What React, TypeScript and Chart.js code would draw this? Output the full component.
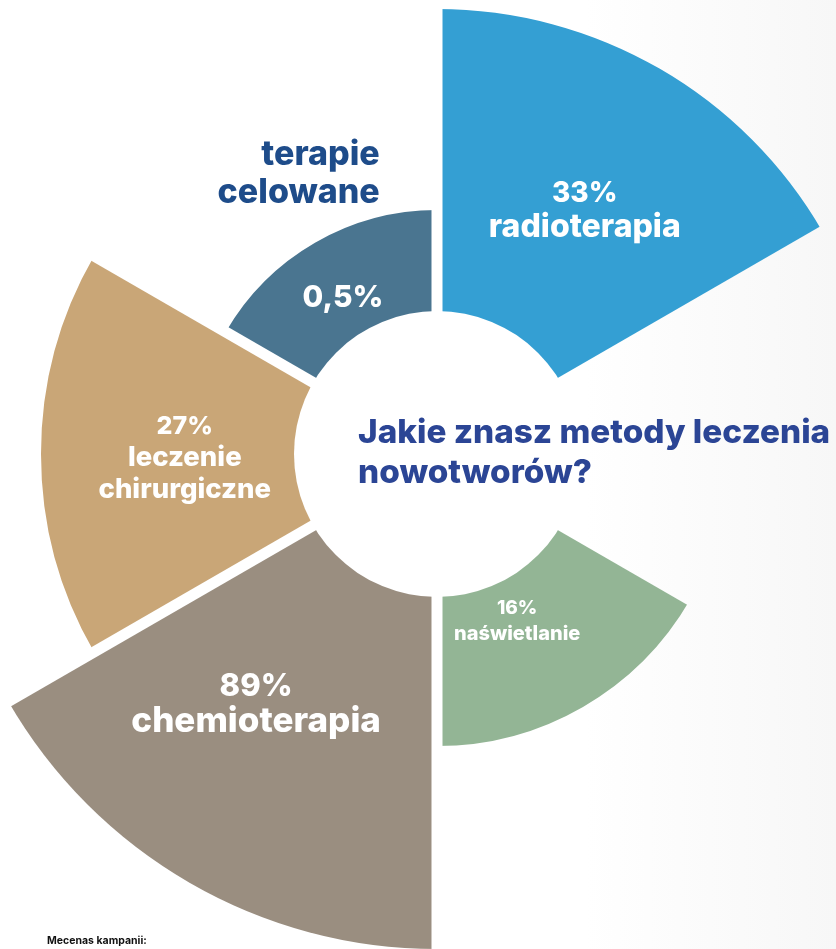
import React, { useEffect, useRef } from 'react';
import { Chart, registerables } from 'chart.js';

Chart.register(...registerables);

// ---- data ----
const categories = ['radioterapia', '', 'naświetlanie', 'chemioterapia', 'leczenie chirurgiczne', 'terapie celowane'];
const percentLabels = ['33%', '', '16%', '89%', '27%', '0,5%'];
// radial length of each 60° sector (scale units = px)
const sliceLengths = [445, 0, 292, 495, 396, 244];
const holeRadius = 143;
const scaleMax = 510;

const titleLines = ['Jakie znasz metody leczenia', 'nowotworów?'];
const sponsorText = 'Mecenas kampanii:';

// ---- styles ----
const sliceColors = ['#349FD3', 'rgba(0,0,0,0)', '#93B595', '#9A8E80', '#C9A677', '#4A7590'];
const FONT = 'Inter, "Open Sans", sans-serif';
const GAP = 11;

type Lay = {
  da: number; // angle offset from sector middle (deg)
  r: number; // distance of first baseline from center (scale units)
  pct: number; // percent font size
  size: number; // name font size
  gap: number;
  outside?: { angle: number; r: number; size: number; gap: number; color: string };
} | null;

const labelLayout: Lay[] = [
  { da: 0.4, r: 292, pct: 28, size: 32, gap: 35 },
  null,
  { da: 3.4, r: 179, pct: 19, size: 20, gap: 26 },
  { da: 6.8, r: 302, pct: 31, size: 35, gap: 36 },
  { da: 4.5, r: 253, pct: 25, size: 27.5, gap: 32 },
  { da: -2.6, r: 174.5, pct: 30, size: 30, gap: 0, outside: { angle: 348.8, r: 294.6, size: 34, gap: 38, color: '#1E4C8A' } },
];

const sliceLabelPlugin = {
  id: 'sliceLabels',
  afterDatasetsDraw(chart: any) {
    const scale = chart.scales.r;
    const ctx: CanvasRenderingContext2D = chart.ctx;
    const cx = scale.xCenter;
    const cy = scale.yCenter;
    const meta = chart.getDatasetMeta(0);
    const arcs = meta.data as any[];
    ctx.save();
    // cut parallel gaps between neighbouring sectors and the centre hole
    ctx.globalCompositeOperation = 'destination-out';
    ctx.strokeStyle = '#000000';
    ctx.fillStyle = '#000000';
    ctx.lineWidth = GAP;
    ctx.lineCap = 'butt';
    arcs.forEach((arc: any, i: number) => {
      const prev = arcs[(i - 1 + arcs.length) % arcs.length];
      const len = Math.max(arc.outerRadius, prev.outerRadius) + 4;
      if (len <= 4) return;
      ctx.beginPath();
      ctx.moveTo(cx, cy);
      ctx.lineTo(cx + Math.cos(arc.startAngle) * len, cy + Math.sin(arc.startAngle) * len);
      ctx.stroke();
    });
    ctx.beginPath();
    ctx.arc(cx, cy, scale.getDistanceFromCenterForValue(holeRadius), 0, Math.PI * 2);
    ctx.fill();
    ctx.globalCompositeOperation = 'source-over';

    arcs.forEach((arc: any, i: number) => {
      const lay = labelLayout[i];
      if (!lay || !percentLabels[i]) return;
      const mid = (arc.startAngle + arc.endAngle) / 2 + (lay.da * Math.PI) / 180;
      const d = scale.getDistanceFromCenterForValue(lay.r);
      const x = cx + Math.cos(mid) * d;
      const y = cy + Math.sin(mid) * d;
      ctx.textAlign = 'center';
      ctx.textBaseline = 'alphabetic';
      ctx.fillStyle = '#ffffff';
      ctx.font = `800 ${lay.pct}px ${FONT}`;
      ctx.fillText(percentLabels[i], x, y);
      const words = categories[i].split(' ');
      if (lay.outside) {
        const o = lay.outside;
        const a = ((o.angle - 90) * Math.PI) / 180;
        const od = scale.getDistanceFromCenterForValue(o.r);
        const ox = cx + Math.cos(a) * od;
        const oy = cy + Math.sin(a) * od;
        ctx.textAlign = 'right';
        ctx.fillStyle = o.color;
        ctx.font = `800 ${o.size}px ${FONT}`;
        words.forEach((w, k) => ctx.fillText(w, ox, oy + k * o.gap));
      } else {
        ctx.font = `800 ${lay.size}px ${FONT}`;
        words.forEach((w, k) => ctx.fillText(w, x, y + (k + 1) * lay.gap));
      }
    });
    ctx.restore();
  },
};

export default function App() {
  const ref = useRef<HTMLCanvasElement>(null);
  useEffect(() => {
    if (!ref.current) return;
    const chart = new Chart(ref.current, {
      type: 'polarArea',
      data: {
        labels: categories,
        datasets: [
          {
            data: sliceLengths,
            backgroundColor: sliceColors,
            borderWidth: 0,
          } as any,
        ],
      },
      options: {
        responsive: false,
        animation: false,
        events: [],
        layout: { padding: 0 },
        plugins: { legend: { display: false }, tooltip: { enabled: false } },
        scales: {
          r: {
            min: 0,
            max: scaleMax,
            startAngle: 0,
            ticks: { display: false },
            grid: { display: false },
            angleLines: { display: false },
            pointLabels: { display: false },
          },
        },
      } as any,
      plugins: [sliceLabelPlugin],
    });
    return () => chart.destroy();
  }, []);

  return (
    <div
      style={{
        position: 'fixed',
        left: 0,
        top: 0,
        width: 836,
        height: 949,
        overflow: 'hidden',
        background: 'linear-gradient(to right, #ffffff 0%, #ffffff 70%, #f7f7f7 100%)',
      }}
    >
      <canvas
        ref={ref}
        width={1020}
        height={1020}
        style={{ position: 'absolute', left: -73, top: -56, width: 1020, height: 1020 }}
      />
      <div
        style={{
          position: 'absolute',
          left: 358,
          top: 411,
          fontFamily: FONT,
          fontWeight: 800,
          fontSize: 33.3,
          lineHeight: '40px',
          color: '#2B4595',
          whiteSpace: 'nowrap',
        }}
      >
        {titleLines.map((l) => (
          <div key={l}>{l}</div>
        ))}
      </div>
      <div
        style={{
          position: 'absolute',
          left: 47,
          top: 934,
          fontFamily: FONT,
          fontWeight: 700,
          fontSize: 10.5,
          lineHeight: '13px',
          color: '#111111',
          whiteSpace: 'nowrap',
        }}
      >
        {sponsorText}
      </div>
    </div>
  );
}
